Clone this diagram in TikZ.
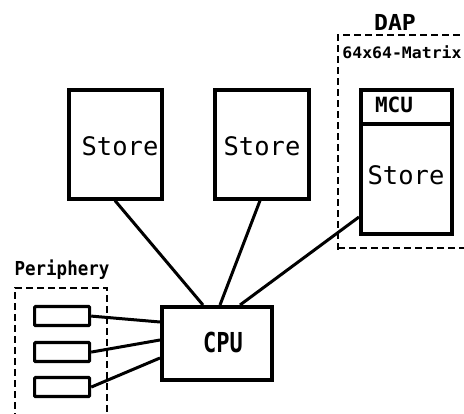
\documentclass[tikz,border=0pt]{standalone}
\usepackage{fontspec}
\usepackage{graphicx}
\setmonofont{DejaVu Sans Mono}
\usetikzlibrary{calc}
\tikzset{
  blk/.style={draw, line width=3.6pt, inner sep=0pt, anchor=north west},
  per/.style={draw, line width=3.2pt, rounded corners=1pt, inner sep=0pt, anchor=north west, minimum width=55pt, minimum height=19pt},
  wire/.style={line width=3pt},
  frame/.style={line width=2.8pt, dash pattern=on 7pt off 4pt},
  lbl/.style={inner sep=0pt},
  storetxt/.style={font=\fontsize{25.5}{25.5}\selectfont\ttfamily}
}
\begin{document}
\begin{tikzpicture}[x=1pt,y=-1pt]
\useasboundingbox (0,0) rectangle (464,414);
\begin{scope}
\clip (0,0) rectangle (464,414);
% stores
\node[blk, minimum width=93pt, minimum height=109pt] (s1) at (67,88) {};
\node[storetxt] (s1t) at (120,146) {Store};
\node[blk, minimum width=94pt, minimum height=109pt] (s2) at (213,88) {};
\node[storetxt] (s2t) at (262,146) {Store};
% DAP
\draw[frame] (338,250) -- (338,35) -- (470,35);
\draw[frame] (338,248) -- (470,248);
\node[lbl, font=\fontsize{22}{22}\selectfont\ttfamily\bfseries] (dap) at (395,22) {\scalebox{1.05}[1.0]{DAP}};
\node[lbl, font=\fontsize{15}{15}\selectfont\ttfamily\bfseries] (mat) at (402,52) {\scalebox{1.1}[1.05]{64x64-Matrix}};
\node[blk, minimum width=91pt, minimum height=34pt] (mcu) at (359,88) {};
\node[lbl, font=\fontsize{20}{20}\selectfont\ttfamily\bfseries] (mcut) at (394,105) {\scalebox{1.05}[1.05]{MCU}};
\node[blk, minimum width=91pt, minimum height=110pt] (s3) at (359,122) {};
\node[storetxt] (s3t) at (406,175) {Store};
% periphery
\node[lbl, font=\fontsize{17.5}{17.5}\selectfont\ttfamily\bfseries] (pert) at (62,270) {\scalebox{1.0}[1.1]{Periphery}};
\draw[frame] (15,420) -- (15,288) -- (107,288) -- (107,420);
\node[per] (p1) at (33,305) {};
\node[per] (p2) at (33,341) {};
\node[per] (p3) at (33,376) {};
% CPU
\node[blk, minimum width=110pt, minimum height=73pt] (cpu) at (160,305) {};
\node[lbl, font=\fontsize{25}{25}\selectfont\ttfamily\bfseries] (cput) at (223,342) {\scalebox{0.88}[1.1]{CPU}};
% connectors
\coordinate (c1) at ($(cpu.north west)+(43,0)$);
\coordinate (c2) at ($(cpu.north west)+(60,0)$);
\coordinate (c3) at ($(cpu.north west)+(80,0)$);
\coordinate (a1) at ($(s1.south west)+(48,0)$);
\coordinate (a2) at ($(s2.south west)+(47,0)$);
\coordinate (a3) at ($(s3.north west)+(0,95)$);
\draw[wire] (a1) -- (c1);
\draw[wire] (a2) -- (c2);
\draw[wire] (a3) -- (c3);
\coordinate (l1) at ($(cpu.north west)+(0,17)$);
\coordinate (l2) at ($(cpu.north west)+(0,35)$);
\coordinate (l3) at ($(cpu.north west)+(0,53)$);
\draw[wire] (p1.east) -- (l1);
\draw[wire] (p2.east) -- (l2);
\draw[wire] (p3.east) -- (l3);
\end{scope}
\end{tikzpicture}
\end{document}
